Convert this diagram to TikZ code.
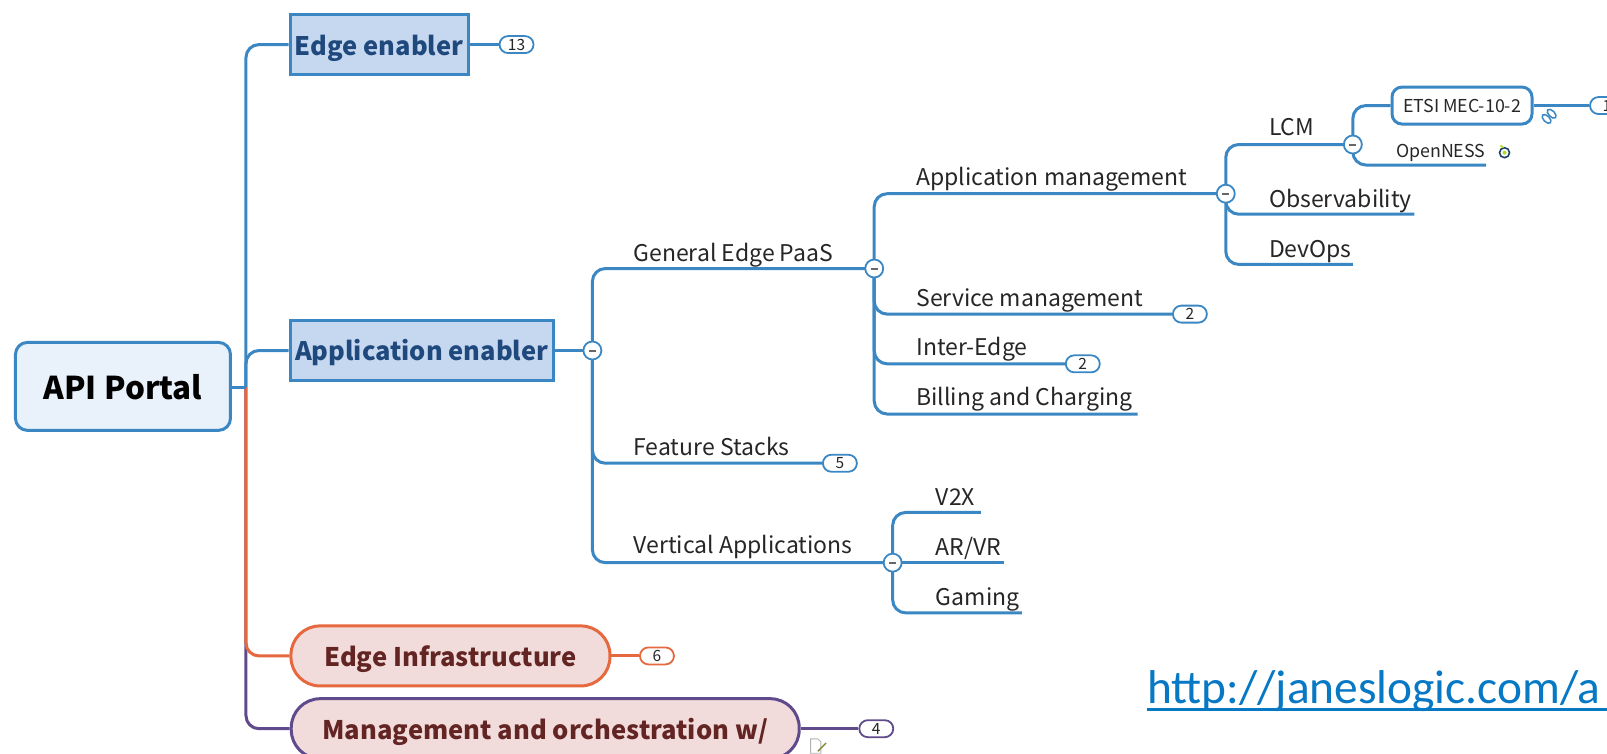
\documentclass[tikz,border=0pt]{standalone}
\usepackage{fontspec}
\setmainfont{Noto Sans CJK SC}
\newfontfamily\urlfont{Carlito}
\usetikzlibrary{backgrounds,shapes.misc}
\definecolor{lnblue}{HTML}{3A87C4}
\definecolor{lnred}{HTML}{E5683F}
\definecolor{lnpurple}{HTML}{5F4B8B}
\definecolor{txblue}{HTML}{1F497D}
\definecolor{txred}{HTML}{632523}
\definecolor{fillblue}{HTML}{C6D8F0}
\definecolor{fillroot}{HTML}{E9F1FA}
\definecolor{fillred}{HTML}{F2DCDB}
\definecolor{txdark}{HTML}{262626}
\definecolor{urlblue}{HTML}{0678C4}
\newcommand{\fs}[1]{\fontsize{#1}{#1}\selectfont}
\tikzset{
  x=1.0249pt,y=-1.0249pt,
  link/.style={draw=lnblue,line width=3pt,rounded corners=13pt},
  rootbox/.style={draw=lnblue,line width=3pt,fill=fillroot,rounded corners=12pt,minimum width=215pt,minimum height=88pt,inner sep=0pt,text=black},
  mainbox/.style={draw=lnblue,line width=3pt,fill=fillblue,minimum height=60pt,inner sep=0pt,text=txblue},
  pill/.style={fill=fillred,line width=3pt,minimum height=60pt,inner sep=0pt,rounded corners=29pt,text=txred},
  boldtext/.style={font=\fs{#1}\bfseries,text height=.9*#1 pt,text depth=.08*#1 pt},
  lab/.style={anchor=base west,inner sep=0pt,font=\fs{23},text=txdark},
  smalllab/.style={anchor=base west,inner sep=0pt,font=\fs{17.8},text=txdark},
  collapse/.style={circle,draw=lnblue,line width=1.8pt,fill=white,minimum size=18pt,inner sep=0pt},
  badge/.style={draw=lnblue,line width=1.8pt,fill=white,rounded rectangle,minimum width=34pt,minimum height=17pt,inner sep=0pt,font=\fs{15.5},text=txdark},
}
\newcommand{\minus}[1]{\draw[txdark!70,line width=2pt] ([xshift=-3.5pt]#1.center) -- ([xshift=3.5pt]#1.center);}
\begin{document}
\begin{tikzpicture}
\useasboundingbox (0,0) rectangle (1568,735.7);
% main nodes
\node[rootbox,boldtext=31.4] (root) at (120,377) {API Portal};
\node[mainbox,boldtext=25.5,minimum width=178pt] (edge) at (370,43.5) {Edge enabler};
\node[mainbox,boldtext=25.5,minimum width=263pt] (app) at (411.5,342) {Application enabler};
\node[pill,boldtext=25.6,draw=lnred,minimum width=319pt] (infra) at (439.5,640) {Edge Infrastructure};
\node[pill,boldtext=25.6,draw=lnpurple,minimum width=508pt] (mgmt) at (532,711) {Management and orchestration w/};
% badges
\node[badge] (b13) at (504,43.5) {13};
\node[badge,draw=lnred] (b6) at (641,640) {6};
\node[badge,draw=lnpurple] (b4) at (855,711) {4};
\node[badge] (b5) at (819.5,452) {5};
\node[badge] (b2a) at (1161,306.5) {2};
\node[badge] (b2b) at (1056.5,355) {2};
\node[badge] (b1) at (1568,103) {1};
% collapse circles
\node[collapse] (c1) at (578,342) {};
\node[collapse] (c2) at (853,262) {};
\node[collapse] (c3) at (871,549) {};
\node[collapse] (c4) at (1196,189) {};
\node[collapse] (c5) at (1320,141) {};
\minus{c1}\minus{c2}\minus{c3}\minus{c4}\minus{c5}
% labels
\node[lab] (tGen) at (618,255) {General Edge PaaS};
\node[lab] (tFea) at (618,444.5) {Feature Stacks};
\node[lab] (tVer) at (618,540) {Vertical Applications};
\node[lab] (tApp) at (894,181) {Application management};
\node[lab] (tSer) at (894,299) {Service management};
\node[lab] (tInt) at (894,347) {Inter-Edge};
\node[lab] (tBil) at (894,396) {Billing and Charging};
\node[lab] (tLCM) at (1238,132) {LCM};
\node[lab] (tObs) at (1238,202) {Observability};
\node[lab] (tDev) at (1238,251) {DevOps};
\node[lab] (tV2X) at (913,493) {V2X};
\node[lab] (tAR) at (913,542) {AR/VR};
\node[lab] (tGam) at (913,591) {Gaming};
\node[smalllab] (tOpen) at (1362,154) {OpenNESS};
\node[draw=lnblue,line width=3pt,fill=white,rounded corners=10pt,minimum width=140pt,minimum height=37pt,inner sep=0pt,font=\fs{17.8},text=txdark] (etsi) at (1426.5,103) {ETSI MEC-10-2};
\node[anchor=base west,inner sep=0pt,text=urlblue,font=\urlfont\fs{47.4}] (url) at (1119,686) {http://janeslogic.com/a};
\draw[urlblue,line width=2.6pt] (1119,692) -- (1568,692);
% free ends
\coordinate (eObs) at (1380,209);
\coordinate (eDev) at (1320,258);
\coordinate (eBil) at (1110,404);
\coordinate (eV2X) at (957,500);
\coordinate (eAR) at (980,549);
\coordinate (eGam) at (997,598);
\coordinate (eOpen) at (1450,161);
\coordinate (trunk) at (240,378);
\begin{scope}[on background layer]
\draw[link] (trunk) |- (edge.west);
\draw[link] (trunk) |- (app.west);
\draw[link,draw=lnpurple] (trunk) |- (mgmt.west);
\draw[link,draw=lnred] (trunk) |- (infra.west);
\draw[link] (root.east |- trunk) -- (trunk);
\draw[link] (edge.east) -- (b13.west);
\draw[link,draw=lnred] (infra.east) -- (b6.west);
\draw[link,draw=lnpurple] (mgmt.east |- b4.west) -- (b4.west);
\draw[link] (app.east) -- (c1.center);
\draw[link] (c1.center) |- (c2.center);
\draw[link] (c1.center) |- (b5.west);
\draw[link] (c1.center) |- (c3.center);
\draw[link] (c2.center) |- (c4.center);
\draw[link] (c2.center) |- (b2a.west);
\draw[link] (c2.center) |- (b2b.west);
\draw[link] (c2.center) |- (eBil);
\draw[link] (c4.center) |- (c5.center);
\draw[link] (c4.center) |- (eObs);
\draw[link] (c4.center) |- (eDev);
\draw[link] (c5.center) |- (etsi.west);
\draw[link] (c5.center) |- (eOpen);
\draw[link] (etsi.east) -- (b1.west);
\draw[link] (c3.center) |- (eV2X);
\draw[link] (c3.center) -- (eAR);
\draw[link] (c3.center) |- (eGam);
\end{scope}
% icons
\draw[lnblue,line width=1.5pt,rotate around={-45:(1509,116)}] (1509,116) ellipse (5.5pt and 3pt);
\draw[lnblue,line width=1.5pt,rotate around={-45:(1514,111)}] (1514,111) ellipse (5.5pt and 3pt);
\draw[fill=white,draw=black!50!lnblue,line width=1.6pt] (1468,149) circle (5pt);
\fill[yellow!70!green] (1468,149) circle (2pt);
\draw[yellow!70!green,line width=1.6pt] (1464,142) -- (1467,144);
\draw[gray!60,line width=.9pt,fill=white] (791,721) -- (798,721) -- (801,724) -- (801,735) -- (791,735) -- cycle;
\draw[olive!70!lnblue,line width=1.4pt] (798,733) -- (806,725);
\end{tikzpicture}
\end{document}
